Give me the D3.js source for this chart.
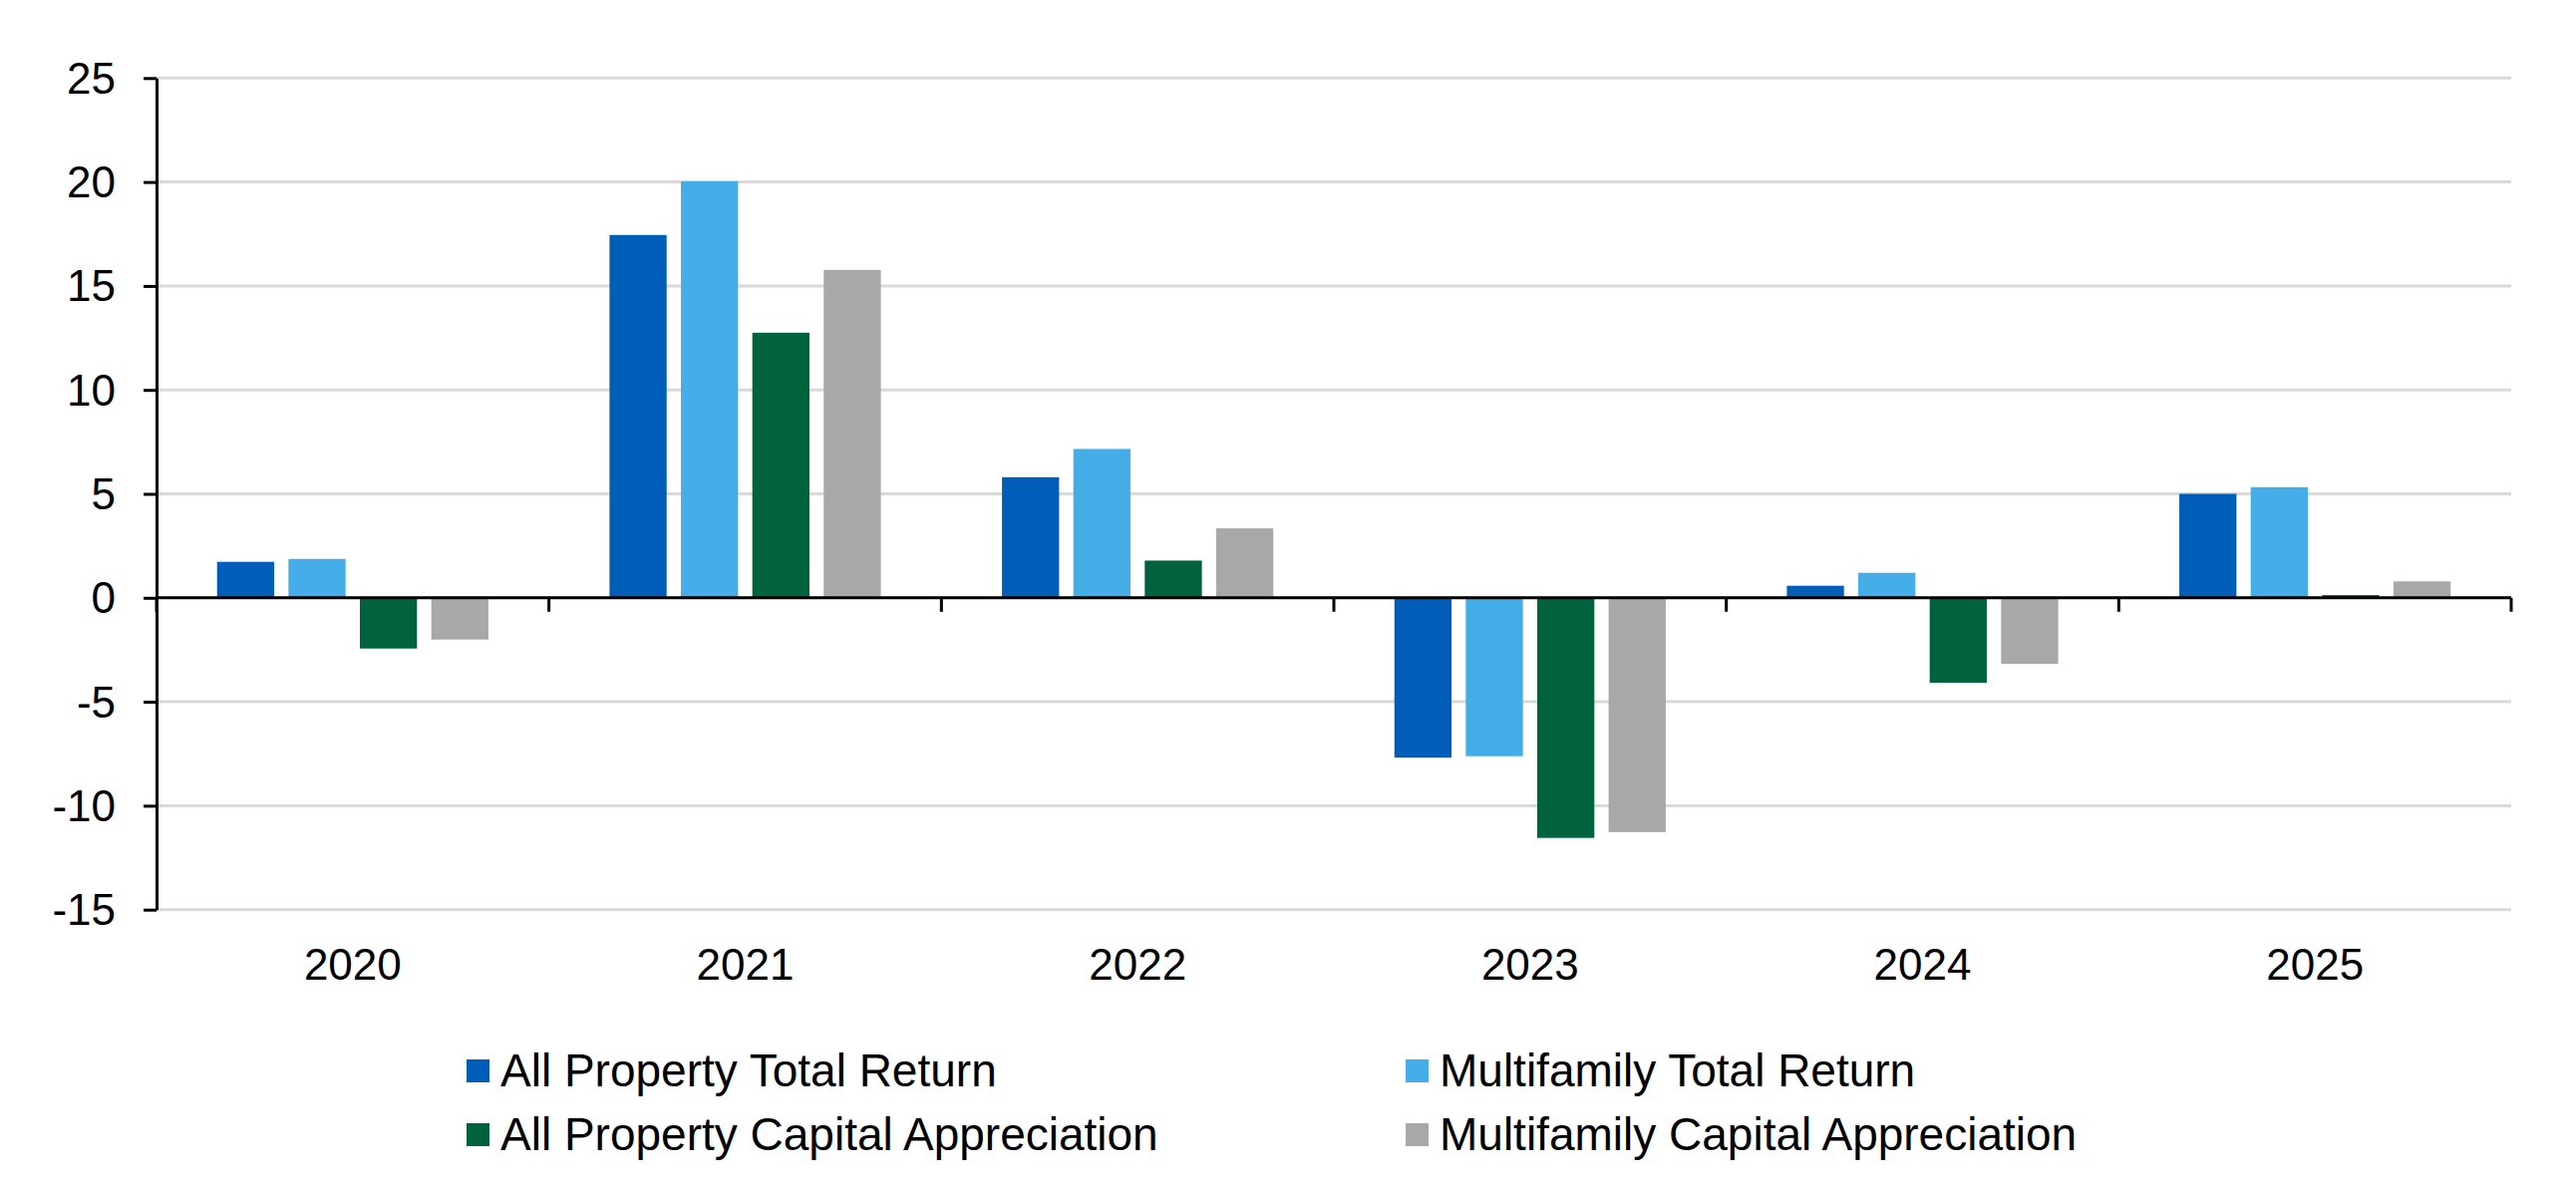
<!DOCTYPE html>
<html>
<head>
<meta charset="utf-8">
<script src="https://cdn.jsdelivr.net/npm/d3@7"></script>
<style>
  body { margin: 0; background: #fff; }
  svg { display: block; }
  text { font-family: "Liberation Sans", Arial, sans-serif; fill: #000; }
</style>
</head>
<body>
<svg id="chart"></svg>
<script>
// Data
const years = ["2020", "2021", "2022", "2023", "2024", "2025"];
const seriesNames = [
    "All Property Total Return",
    "Multifamily Total Return",
    "All Property Capital Appreciation",
    "Multifamily Capital Appreciation"
];
const allPropertyTotal = [1.73, 17.45, 5.8, -7.69, 0.58, 5.0];
const multifamilyTotal = [1.87, 20.03, 7.16, -7.62, 1.2, 5.32];
const allPropertyCapital = [-2.44, 12.75, 1.79, -11.55, -4.09, 0.13];
const multifamilyCapital = [-2.01, 15.77, 3.34, -11.27, -3.18, 0.79];
const yTicks = [-15, -10, -5, 0, 5, 10, 15, 20, 25];

const seriesValues = [allPropertyTotal, multifamilyTotal, allPropertyCapital, multifamilyCapital];
const colors = ["#005EB8", "#45AEE8", "#00633E", "#A7A8A7"];

const W = 2584, H = 1194;
const plotLeft = 157, plotRight = 2519, plotTop = 78.3, plotBottom = 912.7;

const svg = d3.select("#chart")
    .attr("width", W)
    .attr("height", H);

svg.append("rect").attr("width", W).attr("height", H).attr("fill", "#fff");

const x0 = d3.scaleBand()
    .domain(years)
    .range([plotLeft, plotRight])
    .padding(0);

const x1 = d3.scaleBand()
    .domain(seriesNames)
    .range([0, x0.bandwidth()])
    .paddingInner(0.2)
    .paddingOuter(0.848);

const y = d3.scaleLinear()
    .domain([-15, 25])
    .range([plotBottom, plotTop]);

// Gridlines
svg.append("g")
    .selectAll("line")
    .data(yTicks.filter(d => d !== 0))
    .enter()
    .append("line")
    .attr("x1", plotLeft)
    .attr("x2", plotRight)
    .attr("y1", d => y(d))
    .attr("y2", d => y(d))
    .attr("stroke", "#D9D9D9")
    .attr("stroke-width", 3);

// Bars
const rows = years.map((yr, i) => ({
    year: yr,
    values: seriesNames.map((s, j) => ({ series: s, value: seriesValues[j][i], color: colors[j] }))
}));

svg.append("g")
    .selectAll("g")
    .data(rows)
    .enter()
    .append("g")
    .attr("transform", d => `translate(${x0(d.year)},0)`)
    .selectAll("rect")
    .data(d => d.values)
    .enter()
    .append("rect")
    .attr("x", d => x1(d.series))
    .attr("width", x1.bandwidth())
    .attr("y", d => y(Math.max(0, d.value)))
    .attr("height", d => Math.abs(y(d.value) - y(0)))
    .attr("fill", d => d.color);

// Y axis (plain hyphen for negatives, like the original)
const yAxis = svg.append("g")
    .attr("transform", `translate(${plotLeft},0)`)
    .call(d3.axisLeft(y)
        .tickValues(yTicks)
        .tickFormat(d => String(d))
        .tickSize(13)
        .tickSizeOuter(0)
        .tickPadding(28));
yAxis.select(".domain").attr("stroke", "#000").attr("stroke-width", 3);
yAxis.selectAll(".tick line").attr("stroke", "#000").attr("stroke-width", 3);
yAxis.selectAll("text").style("font-size", "44px").attr("dy", "0.34em");

// Zero line with category boundary ticks
const zeroG = svg.append("g");
zeroG.selectAll("line.tk")
    .data(years.map(d => x0(d)).concat([x0.range()[1]]))
    .enter()
    .append("line")
    .attr("class", "tk")
    .attr("x1", d => d)
    .attr("x2", d => d)
    .attr("y1", y(0))
    .attr("y2", y(0) + 14)
    .attr("stroke", "#000")
    .attr("stroke-width", 3);
zeroG.append("line")
    .attr("x1", plotLeft)
    .attr("x2", plotRight)
    .attr("y1", y(0))
    .attr("y2", y(0))
    .attr("stroke", "#000")
    .attr("stroke-width", 3);

// Category labels
const xAxis = svg.append("g")
    .attr("transform", `translate(0,${plotBottom})`)
    .call(d3.axisBottom(x0).tickSize(0).tickPadding(39));
xAxis.select(".domain").remove();
xAxis.selectAll("text").style("font-size", "44px");

// Legend
const legendPos = [
    { x: 468, y: 1063 },
    { x: 1410, y: 1063 },
    { x: 468, y: 1127 },
    { x: 1410, y: 1127 }
];
const legend = svg.append("g")
    .selectAll("g")
    .data(seriesNames)
    .enter()
    .append("g")
    .attr("transform", (d, i) => `translate(${legendPos[i].x},${legendPos[i].y})`);

legend.append("rect")
    .attr("width", 23)
    .attr("height", 23)
    .attr("fill", (d, i) => colors[i]);

legend.append("text")
    .attr("x", 34)
    .attr("y", 27)
    .style("font-size", "46px")
    .text(d => d);
</script>
</body>
</html>
